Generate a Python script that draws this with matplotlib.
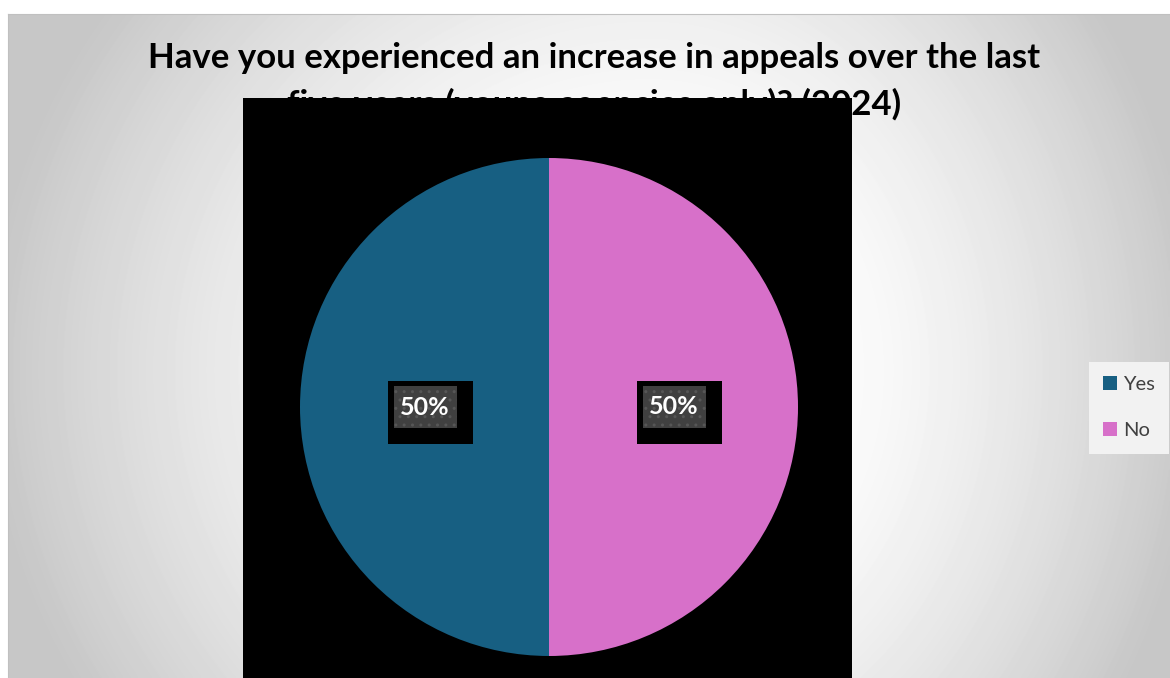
import numpy as np
import matplotlib.pyplot as plt
from matplotlib.patches import Rectangle

categories = ['Yes', 'No']
values = [50, 50]
colors = ['#175f82', '#d770c9']
title_lines = ['Have you experienced an increase in appeals over the last',
               'five years (young agencies only)? (2024)']

W, H = 1170, 678
fig = plt.figure(figsize=(W / 100, H / 100), dpi=100)
fig.patch.set_facecolor('white')
plt.rcParams['font.family'] = ['Lato', 'DejaVu Sans']

# gradient background panel (radial gradient, lightest behind the plot area)
PW, PH = W - 8, H - 14
bg = fig.add_axes([8 / W, 0, PW / W, PH / H], zorder=-5)
yy, xx = np.mgrid[0:PH, 0:PW].astype(float)
cx, cy = 642.0, 356.0
sx = np.where(xx < cx, 0.95, 1.15)
d = np.hypot((xx - cx) * sx, yy - cy)
t = np.clip((d - 150) / 480, 0, 1)
v = np.clip(1 - 0.22 * t ** 1.5, 0.78, 1)
bg.imshow(v, cmap='gray', vmin=0, vmax=1, aspect='auto', interpolation='bilinear')
bg.set_xticks([]); bg.set_yticks([])
for s in ['right', 'bottom']:
    bg.spines[s].set_visible(False)
for s in ['top', 'left']:
    bg.spines[s].set_color('#c0c0c0')

# title (partly hidden behind the black plot area)
fig.text(594.5 / W, 1 - 68 / H, title_lines[0], ha='center', va='baseline',
         fontsize=25, weight='bold', color='black', zorder=1)
fig.text(594.5 / W, 1 - 115 / H, title_lines[1], ha='center', va='baseline',
         fontsize=25, weight='bold', color='black', zorder=1)

# black plot area
fig.patches.append(Rectangle((243 / W, 0), 609 / W, 580 / H, transform=fig.transFigure,
                             facecolor='black', edgecolor='none', zorder=2))

ax = fig.add_axes([243 / W, 0, 609 / W, 580 / H], zorder=3)
ax.patch.set_alpha(0)
R = 249
wedges, _ = ax.pie(values, colors=colors, startangle=90, counterclock=True,
                   radius=R, center=(0, 0), wedgeprops=dict(linewidth=0))
ax.set_xlim(-306, 303)
ax.set_ylim(-271, 309)
ax.axis('off')

total = sum(values)
for w, val in zip(wedges, values):
    th = np.deg2rad((w.theta1 + w.theta2) / 2)
    x, y = 0.5 * R * np.cos(th), 0.5 * R * np.sin(th)
    ax.add_patch(Rectangle((x - 37, y - 37), 85, 63, facecolor='black', edgecolor='none', zorder=4))
    ax.add_patch(Rectangle((x - 31, y - 21), 63, 42, facecolor='#404040', edgecolor='#565656',
                           hatch='..', linewidth=0, zorder=5))
    ax.text(x, y, f'{val / total * 100:.0f}%', ha='center', va='center', color='white',
            fontsize=18, weight='bold', zorder=6)

leg = fig.legend(handles=wedges, labels=categories, loc='upper left',
                 bbox_to_anchor=(1089 / W, 1 - 362 / H), frameon=True, fancybox=False,
                 facecolor='#f2f2f2', edgecolor='none', framealpha=1, fontsize=14.5,
                 handlelength=0.7, handleheight=0.7, handletextpad=0.3,
                 labelspacing=1.45, borderpad=0.7, borderaxespad=0)
for t in leg.get_texts():
    t.set_color('#404040')

fig.savefig('out.png', dpi=100)
